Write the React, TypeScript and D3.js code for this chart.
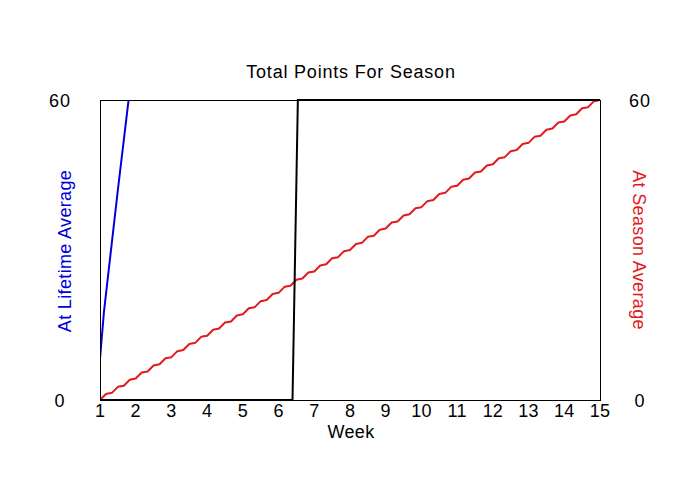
import React from "react";
import * as d3 from "d3";

const weeks = [1, 2, 3, 4, 5, 6, 7, 8, 9, 10, 11, 12, 13, 14, 15];
const leftTicks = ["0", "60"];
const rightTicks = ["0", "60"];

// At Lifetime Average (blue, left axis) - leaves the top of the plot
const lifetimeWeeks = [1, 1.11, 1.5, 2];
const lifetimeValues = [8.2, 17.6, 42, 72];

// Black line (total points)
const totalWeeks = [1, 6.39, 6.54, 15];
const totalValues = [0, 0, 60, 60];

// At Season Average (red, right axis), wavy staircase
const seasonValues = [
  0, 1.2, 1.43, 2.63, 2.86, 4.06, 4.29, 5.49, 5.71, 6.91, 7.14, 8.34, 8.57, 9.77, 10, 11.2,
  11.43, 12.63, 12.86, 14.06, 14.29, 15.49, 15.71, 16.91, 17.14, 18.34, 18.57, 19.77, 20, 21.2,
  21.43, 22.63, 22.86, 24.06, 24.29, 25.49, 25.71, 26.91, 27.14, 28.34, 28.57, 29.77, 30, 31.2,
  31.43, 32.63, 32.86, 34.06, 34.29, 35.49, 35.71, 36.91, 37.14, 38.34, 38.57, 39.77, 40, 41.2,
  41.43, 42.63, 42.86, 44.06, 44.29, 45.49, 45.71, 46.91, 47.14, 48.34, 48.57, 49.77, 50, 51.2,
  51.43, 52.63, 52.86, 54.06, 54.29, 55.49, 55.71, 56.91, 57.14, 58.34, 58.57, 59.77, 60,
];
const seasonStep = 1 / 6;

export default function App() {
  const W = 700, H = 500;
  const left = 100, right = 600, top = 100, bottom = 400;
  const x = d3.scaleLinear().domain([1, 15]).range([left, right]);
  const yL = d3.scaleLinear().domain([0, 60]).range([bottom, top]);
  const yR = d3.scaleLinear().domain([0, 60]).range([bottom, top]);

  const line = d3.line<[number, number]>().x((d) => d[0]).y((d) => d[1]);

  const lifetimePath = line(lifetimeWeeks.map((w, i) => [x(w), yL(lifetimeValues[i])]))!;
  const totalPath = line(totalWeeks.map((w, i) => [x(w), yL(totalValues[i])]))!;
  const seasonPath = line(seasonValues.map((v, i) => [x(1 + i * seasonStep), yR(v)]))!;

  const font = "'Liberation Sans', Arial, sans-serif";

  return (
    <svg width={W} height={H} style={{ position: "absolute", left: 0, top: 0, background: "#fff" }} fontFamily={font}>
      <defs>
        <clipPath id="plotclip">
          <rect x={left} y={top} width={right - left} height={bottom - top} />
        </clipPath>
      </defs>
      <rect x={0} y={0} width={W} height={H} fill="#fff" />
      <text x={351} y={78} textAnchor="middle" fontSize={18} letterSpacing={0.8} fill="#000">Total Points For Season</text>

      <g clipPath="url(#plotclip)">
        <path d={seasonPath} fill="none" stroke="#e31a1c" strokeWidth={2} strokeLinejoin="round" />
        <path d={lifetimePath} fill="none" stroke="#0000dd" strokeWidth={2} />
      </g>
      <rect x={left + 0.5} y={top + 0.5} width={right - left} height={bottom - top} fill="none" stroke="#000" strokeWidth={1} />
      <path d={totalPath} fill="none" stroke="#000" strokeWidth={2} />

      {weeks.map((w) => (
        <text key={w} x={x(w)} y={416.5} textAnchor="middle" fontSize={18} letterSpacing={0.2} fill="#000">{w}</text>
      ))}
      <text x={351} y={438} textAnchor="middle" fontSize={18} letterSpacing={0.3} fill="#000">Week</text>

      {leftTicks.map((t) => (
        <text key={"l" + t} x={60} y={yL(+t) + 6.5} textAnchor="middle" fontSize={18} letterSpacing={1} fill="#000">{t}</text>
      ))}
      {rightTicks.map((t) => (
        <text key={"r" + t} x={640} y={yR(+t) + 6.5} textAnchor="middle" fontSize={18} letterSpacing={1} fill="#000">{t}</text>
      ))}

      <text transform="translate(71,251) rotate(-90)" textAnchor="middle" fontSize={18} letterSpacing={0.35} fill="#0000dd">At Lifetime Average</text>
      <text transform="translate(633,250) rotate(90)" textAnchor="middle" fontSize={18} letterSpacing={0.35} fill="#e31a1c">At Season Average</text>
    </svg>
  );
}
